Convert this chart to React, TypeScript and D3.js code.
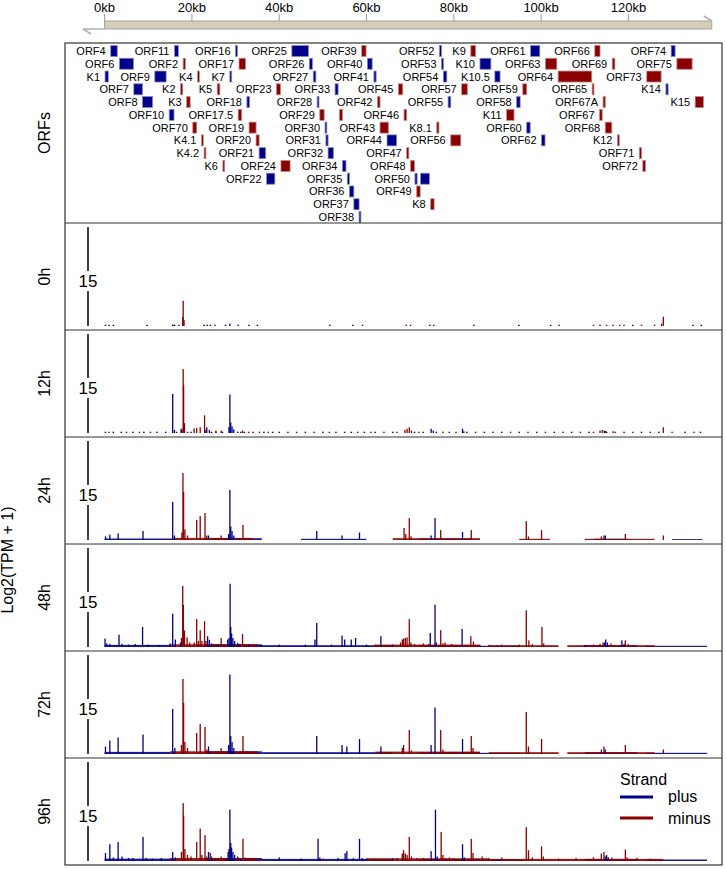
import React from "react";
import * as d3 from "d3";

const W = 726;
const H = 869;
const FONT = "'Liberation Sans', Arial, Helvetica, sans-serif";
const BLUE = "#00008B";
const RED = "#8B0000";

// ---------- top genome axis ----------
const AXIS_TICKS = [0, 20, 40, 60, 80, 100, 120];
const GENOME_END = 139.1; // kb

// ---------- ORF annotation: [label, row, start kb, end kb, strand] ----------
type Orf = [string, number, number, number, string];
const ORFS: Orf[] = [
  ["ORF4", 0, 1.4, 2.9, "+"], ["ORF11", 0, 16.0, 16.9, "+"], ["ORF16", 0, 30.0, 30.4, "+"],
  ["ORF25", 0, 42.9, 46.7, "+"], ["ORF39", 0, 58.9, 59.9, "-"], ["ORF52", 0, 76.7, 77.2, "+"],
  ["K9", 0, 83.9, 85.0, "-"], ["ORF61", 0, 97.6, 99.7, "+"], ["ORF66", 0, 112.3, 113.5, "-"],
  ["ORF74", 0, 129.8, 130.7, "+"],
  ["ORF6", 1, 3.4, 6.6, "+"], ["ORF2", 1, 18.0, 18.5, "-"], ["ORF17", 1, 30.8, 32.3, "-"],
  ["ORF26", 1, 46.9, 47.6, "+"], ["ORF40", 1, 60.2, 61.3, "+"], ["ORF53", 1, 77.2, 77.6, "+"],
  ["K10", 1, 86.0, 88.5, "+"], ["ORF63", 1, 101.0, 103.6, "-"], ["ORF69", 1, 116.3, 116.9, "-"],
  ["ORF75", 1, 131.1, 134.6, "-"],
  ["K1", 2, 0.1, 0.85, "+"], ["ORF9", 2, 11.5, 14.1, "+"], ["K4", 2, 21.3, 21.7, "-"],
  ["K7", 2, 28.7, 29.1, "+"], ["ORF27", 2, 47.8, 48.4, "+"], ["ORF41", 2, 61.7, 62.2, "+"],
  ["ORF54", 2, 77.6, 78.4, "+"], ["K10.5", 2, 89.4, 90.6, "+"], ["ORF64", 2, 103.9, 111.6, "-"],
  ["ORF73", 2, 124.2, 127.5, "-"],
  ["ORF7", 3, 6.7, 8.7, "+"], ["K2", 3, 17.4, 17.9, "-"], ["K5", 3, 25.8, 26.4, "-"],
  ["ORF23", 3, 39.4, 40.3, "-"], ["ORF33", 3, 52.8, 53.5, "+"], ["ORF45", 3, 67.3, 68.3, "-"],
  ["ORF57", 3, 81.8, 83.1, "-"], ["ORF59", 3, 95.8, 96.7, "-"], ["ORF65", 3, 111.7, 112.1, "-"],
  ["K14", 3, 128.6, 129.1, "+"],
  ["ORF8", 4, 8.7, 11.0, "+"], ["K3", 4, 18.8, 19.6, "-"], ["ORF18", 4, 32.6, 33.2, "+"],
  ["ORF28", 4, 48.7, 49.1, "+"], ["ORF42", 4, 62.5, 63.1, "-"], ["ORF55", 4, 78.7, 79.3, "+"],
  ["ORF58", 4, 94.4, 95.2, "+"], ["ORF67A", 4, 114.2, 114.7, "-"], ["K15", 4, 135.3, 137.2, "-"],
  ["ORF10", 5, 14.8, 15.9, "+"], ["ORF17.5", 5, 30.6, 31.4, "-"], ["ORF29", 5, 49.3, 50.3, "-"],
  ["", 5, 53.8, 54.5, "-"], ["ORF46", 5, 68.6, 69.2, "-"], ["K11", 5, 92.1, 93.8, "-"],
  ["ORF67", 5, 113.4, 114.0, "-"],
  ["ORF70", 6, 20.2, 21.1, "-"], ["ORF19", 6, 33.1, 34.7, "-"], ["ORF30", 6, 50.5, 50.9, "+"],
  ["ORF43", 6, 63.1, 65.0, "-"], ["K8.1", 6, 76.1, 76.6, "-"], ["ORF60", 6, 96.7, 97.5, "+"],
  ["ORF68", 6, 114.7, 116.2, "-"],
  ["K4.1", 7, 22.2, 22.6, "-"], ["ORF20", 7, 34.7, 35.4, "-"], ["ORF31", 7, 50.7, 51.2, "+"],
  ["ORF44", 7, 64.7, 66.9, "+"], ["ORF56", 7, 79.3, 81.6, "-"], ["ORF62", 7, 100.1, 100.9, "+"],
  ["K12", 7, 117.5, 117.9, "-"],
  ["K4.2", 8, 22.8, 23.2, "-"], ["ORF21", 8, 35.4, 36.9, "+"], ["ORF32", 8, 51.2, 52.4, "+"],
  ["ORF47", 8, 69.2, 69.7, "-"], ["ORF71", 8, 122.5, 123.0, "-"],
  ["K6", 9, 27.1, 27.5, "-"], ["ORF24", 9, 40.4, 42.5, "-"], ["ORF34", 9, 54.5, 55.3, "+"],
  ["ORF48", 9, 70.1, 71.0, "-"], ["ORF72", 9, 123.3, 123.9, "-"],
  ["ORF22", 10, 37.1, 39.0, "+"], ["ORF35", 10, 55.6, 56.1, "+"], ["ORF50", 10, 71.1, 71.6, "+"],
  ["", 10, 72.4, 74.4, "+"],
  ["ORF36", 11, 56.1, 57.1, "+"], ["ORF49", 11, 71.5, 72.3, "-"],
  ["ORF37", 12, 57.1, 58.3, "+"], ["K8", 12, 74.7, 75.5, "-"],
  ["ORF38", 13, 58.3, 58.7, "+"],
];

// ---------- coverage tracks: peaks [kb, log2(TPM+1)] ----------
type Pk = [number, number];
type Seg = [number, number, number];

const plus0h: Pk[] = [[28.7, 0.8], [15.6, 0.5]];
const minus0h: Pk[] = [[17.9, 3], [18.0, 8.4], [18.2, 2], [127.6, 0.8], [128.0, 3.1]];
const dotsPlus0h = [0.2, 1.0, 2.0, 9.7, 16.0, 22.8, 23.5, 27.7, 30.6, 33.1, 35.0, 51.6, 56.9, 74.5, 84.6, 94.9, 102.2, 121, 134.8, 136.7];
const dotsMinus0h = [17.0, 24.2, 25.3, 59.1, 69.1, 70.1, 75.4, 104.1, 112, 113.5, 115, 116.5, 118, 119, 123, 126];

const plus12h: Pk[] = [[15.6, 13], [16.0, 1.0], [17.5, 1.2], [23.4, 1.9], [24.0, 1.0], [28.5, 2], [28.7, 12.8], [28.9, 3.5], [29.2, 2.2], [29.6, 1.2], [74.8, 1.4], [75.3, 0.8], [82.0, 1.4], [82.3, 0.6], [114.5, 0.8]];
const minus12h: Pk[] = [[17.7, 1.5], [18.0, 21.3], [18.1, 16], [18.3, 3.3], [20.5, 1.5], [21.1, 1.7], [21.9, 1.9], [22.9, 5.9], [23.2, 1.0], [25.5, 0.8], [26.7, 0.8], [31.6, 0.8], [68.8, 1], [69.3, 1.4], [69.8, 1.9], [70.3, 0.8], [113.5, 0.8], [114, 1.0], [114.8, 0.7], [116.5, 0.6], [128.0, 1.9]];
const dotsPlus12h = [0.2, 2, 3.8, 6.5, 9, 12, 14, 19.8, 24.5, 27, 30.5, 32, 34, 36.5, 38.5, 42, 46, 50, 53, 56.5, 59.5, 62, 66, 71, 73, 76, 79, 83, 87, 91, 95, 99, 103, 107, 111, 115, 119, 123, 127, 133, 136.5];
const dotsMinus12h = [1, 5, 8, 10.5, 16.5, 19, 25.5, 31.2, 33, 35.5, 37.5, 40, 44, 48, 51.5, 55, 58, 61, 64, 67, 72, 77.5, 80.5, 85, 89, 93, 97, 101, 105, 109, 112, 117, 121, 125, 130, 135];

const plus24h: Pk[] = [[0.2, 1.2], [1.2, 1.8], [3.1, 2.2], [8.8, 3], [15.6, 12.7], [16, 1.5], [23.8, 1.5], [28.4, 2], [28.7, 16.7], [28.9, 4.5], [29.2, 3], [29.6, 1.5], [48.6, 3], [54.4, 1.5], [58.4, 2.5], [74.8, 1.5], [75.7, 7.3], [82, 2.7], [114.7, 1.5]];
const minus24h: Pk[] = [[17.7, 2.5], [17.95, 22.3], [18.1, 16], [18.4, 3.5], [19, 1.5], [21.1, 6.7], [21.9, 8], [23, 9], [23.4, 1.5], [26.7, 1.5], [31.7, 5], [68.6, 4], [69, 2], [69.8, 7.3], [70.2, 1.2], [77, 3.3], [84, 3.3], [96.6, 6.3], [97.1, 1.2], [100.1, 3.3], [113.8, 1.2], [114.4, 1.5], [119.3, 2], [128, 1.5]];
const lowPlus24h: Seg[] = [[0, 16, 0.5], [23, 36, 0.6], [45, 60, 0.4], [72, 84, 0.5], [112, 120, 0.4], [130, 137, 0.3]];
const lowMinus24h: Seg[] = [[16, 34, 0.7], [66, 86, 0.6], [95, 102, 0.4], [110, 126, 0.4]];

const plus48h: Pk[] = [[0.1, 2.8], [0.5, 1.2], [1.2, 1.0], [3.3, 4.1], [4, 1.0], [5.5, 0.8], [7, 1], [8.7, 6.7], [10, 0.8], [12.5, 0.7], [15.0, 1.2], [15.6, 11.1], [16.2, 2.5], [17.4, 1.5], [23.6, 3.6], [24.0, 2.4], [24.5, 1.2], [26, 1], [28.2, 2.5], [28.5, 3], [28.75, 21.1], [28.9, 6.7], [29.1, 4.5], [29.4, 3], [29.8, 2], [30.5, 1.4], [31, 1], [33, 0.8], [36, 0.7], [40, 0.8], [46, 0.8], [48.2, 2.5], [48.6, 8], [52, 0.8], [54.4, 3.8], [55.0, 2.5], [56.5, 2.5], [57.5, 3], [60, 0.8], [63.3, 3.6], [66, 0.8], [74.6, 4.7], [75.7, 14.1], [76, 1.5], [81.9, 6], [90, 0.5], [110, 0.6], [114.5, 1.5], [114.8, 2.5], [115.2, 1.5], [118.5, 2.2], [119, 1]];
const minus48h: Pk[] = [[17.6, 3], [17.9, 20.4], [18.05, 14], [18.3, 5.5], [18.9, 3.2], [19.5, 1.5], [20.5, 1.5], [21.1, 9.3], [21.5, 2], [21.9, 5.6], [22.3, 2], [22.9, 8.6], [23.2, 2], [25, 1], [26.7, 3], [27.5, 1], [31.6, 4.3], [32, 1], [33, 0.8], [34, 0.8], [62, 0.8], [67.8, 1.5], [68.2, 2.5], [68.5, 2.8], [68.9, 3], [69.3, 3.2], [69.8, 9.3], [70.2, 1.5], [71, 1], [73, 1.2], [74.2, 1], [77, 5.6], [77.5, 1.2], [78, 1.5], [79.5, 1], [83.9, 3.6], [84.5, 1.8], [86, 0.7], [88, 0.7], [91, 0.8], [95, 0.8], [96.6, 12.2], [97.2, 2.2], [98, 1], [100.2, 6.7], [100.6, 1.2], [112, 0.8], [113.5, 1], [114.2, 1.5], [116, 1.2], [119.3, 2.2], [120, 1]];
const lowPlus48h: Seg[] = [[0, 15, 0.7], [23, 36, 0.9], [36, 66, 0.6], [72, 86, 0.6], [86, 95, 0.4], [110, 122, 0.6], [124, 138, 0.4]];
const lowMinus48h: Seg[] = [[15, 35, 0.9], [62, 86, 0.8], [88, 104, 0.6], [106, 126, 0.6]];

const plus72h: Pk[] = [[0.2, 2.5], [1.2, 4.5], [3.1, 5.5], [8.8, 6.5], [15.6, 15], [16.1, 2], [23.8, 2.5], [28.4, 3], [28.7, 26.5], [28.9, 6], [29.2, 4], [29.6, 2], [48.6, 6], [54.4, 3], [55.5, 2.5], [58.4, 5], [63.3, 2.5], [74.8, 3], [75.7, 15.5], [82, 5], [114.7, 1.5]];
const minus72h: Pk[] = [[17.6, 3], [17.95, 25], [18.1, 17], [18.4, 4], [19, 2], [21.1, 7], [21.9, 10], [23, 9], [23.4, 1.5], [26.7, 2], [31.7, 6], [68.2, 2], [68.5, 3], [69.8, 8], [70.3, 1.2], [77, 8], [77.5, 1.5], [84, 6], [84.4, 2], [96.6, 14], [97.1, 2.5], [100.1, 5], [113.8, 1.5], [114.4, 2.5], [119.3, 3], [128, 1.5]];
const lowPlus72h: Seg[] = [[0, 15, 0.7], [23, 36, 0.9], [36, 66, 0.6], [72, 86, 0.6], [86, 95, 0.4], [110, 122, 0.6], [124, 138, 0.4]];
const lowMinus72h: Seg[] = [[15, 35, 0.9], [62, 86, 0.8], [88, 104, 0.6], [106, 126, 0.6]];

const plus96h: Pk[] = [[0.2, 2.7], [1.2, 5.6], [2, 1.2], [3.1, 6.3], [4, 1.5], [5.5, 1], [6.5, 1], [8.8, 8], [9.5, 1], [11, 0.8], [13, 1], [15.6, 3], [16.2, 1.2], [23.8, 3], [24.5, 1.5], [28.3, 3], [28.5, 4], [28.7, 17.1], [28.9, 6], [29.1, 4.5], [29.4, 3], [29.8, 2], [30.5, 1.5], [31.2, 1], [40, 1.2], [45, 0.8], [48.9, 7.4], [49.3, 1.2], [53.5, 1], [55.1, 2.6], [55.5, 3.3], [57, 1], [58.4, 7.4], [59, 1], [60, 0.8], [66, 1], [74.8, 3.3], [75.8, 17.1], [76.2, 1.5], [82, 5.6], [82.4, 1.2], [90, 0.6], [114.7, 1.5], [115, 2], [115.4, 1.2]];
const minus96h: Pk[] = [[17.6, 3], [18.0, 19.3], [18.1, 15.2], [18.4, 4], [19, 2], [19.8, 1.5], [21.1, 6.3], [21.9, 10.8], [22.3, 2], [23, 8.6], [23.4, 1.5], [24.2, 2.7], [26.7, 1.5], [31.7, 7.4], [32.2, 1.2], [33.5, 1], [36, 0.8], [50, 0.8], [62, 0.8], [67, 1], [68.2, 2.5], [68.5, 3.6], [68.9, 2.5], [69.3, 2], [69.8, 8], [70.3, 1.5], [71.5, 1], [73, 1], [77.1, 9.7], [77.5, 2], [78, 1], [79, 1.2], [80, 1], [84, 7.4], [84.4, 2.7], [86.5, 1.5], [88, 1], [91, 1.2], [96.6, 11.3], [97.1, 3.6], [98, 1.2], [100.1, 4.9], [100.5, 1.5], [104, 0.8], [108, 1], [112, 1.2], [113.8, 2.5], [114.4, 3], [115, 1.5], [116.2, 1.2], [119.3, 3.8], [119.7, 1.2], [122, 1], [125, 0.8]];
const lowPlus96h: Seg[] = [[0, 16, 0.8], [23, 36, 1.0], [36, 66, 0.7], [72, 86, 0.7], [86, 96, 0.5], [110, 122, 0.7], [124, 138, 0.5]];
const lowMinus96h: Seg[] = [[15, 35, 1.0], [60, 88, 0.9], [88, 104, 0.7], [104, 128, 0.7]];

const TIME_LABELS = ["0h", "12h", "24h", "48h", "72h", "96h"];
const TRACKS = [
  { plus: plus0h, minus: minus0h, lowPlus: [] as Seg[], lowMinus: [] as Seg[], dotsPlus: dotsPlus0h, dotsMinus: dotsMinus0h },
  { plus: plus12h, minus: minus12h, lowPlus: [] as Seg[], lowMinus: [] as Seg[], dotsPlus: dotsPlus12h, dotsMinus: dotsMinus12h },
  { plus: plus24h, minus: minus24h, lowPlus: lowPlus24h, lowMinus: lowMinus24h, dotsPlus: [] as number[], dotsMinus: [] as number[] },
  { plus: plus48h, minus: minus48h, lowPlus: lowPlus48h, lowMinus: lowMinus48h, dotsPlus: [] as number[], dotsMinus: [] as number[] },
  { plus: plus72h, minus: minus72h, lowPlus: lowPlus72h, lowMinus: lowMinus72h, dotsPlus: [] as number[], dotsMinus: [] as number[] },
  { plus: plus96h, minus: minus96h, lowPlus: lowPlus96h, lowMinus: lowMinus96h, dotsPlus: [] as number[], dotsMinus: [] as number[] },
];

const Y_TICK = 15;
const Y_MAX = 33;

// ---------- layout ----------
const PANEL_L = 65;
const PANEL_R = 722;
const ORF_TOP = 43;
const ORF_BOTTOM = 223;
const TRACK_H = 107;
const ROW0 = 51;
const ROW_STEP = 12.77;
const AXIS_X = 88;

export default function App() {
  const x = d3.scaleLinear().domain([0, 120]).range([104.6, 628.4]);
  const rowY = (r: number) => ROW0 + r * ROW_STEP;
  const bottom = ORF_BOTTOM + TRACK_H * TRACKS.length;

  return (
    <svg width={W} height={H} style={{ position: "absolute", left: 0, top: 0, background: "#fff" }} fontFamily={FONT}>
      {/* top genome axis */}
      <g>
        <rect x={x(0)} y={21} width={x(GENOME_END) - x(0)} height={8} fill="#d4cdb7" stroke="#a3a3a3" strokeWidth={1} />
        <line x1={83} x2={x(0)} y1={29} y2={29} stroke="#b0b0b0" strokeWidth={1.5} />
        <line x1={83} x2={91} y1={29} y2={34} stroke="#b0b0b0" strokeWidth={1.5} />
        <line x1={x(GENOME_END)} x2={x(GENOME_END) - 8} y1={21} y2={16} stroke="#b0b0b0" strokeWidth={1.5} />
        {AXIS_TICKS.map((t) => (
          <g key={t}>
            <line x1={x(t)} x2={x(t)} y1={14} y2={21} stroke="#999" strokeWidth={1} />
            <text x={x(t)} y={12} textAnchor="middle" fontSize={13} fill="#000">{`${t}kb`}</text>
          </g>
        ))}
      </g>

      {/* ORF panel */}
      <g>
        {ORFS.map((o, i) => {
          const [label, row, s, e, strand] = o;
          const cy = rowY(row);
          const x0 = x(s);
          const w = Math.max(1.8, x(e) - x(s));
          const isPlus = strand === "+";
          return (
            <g key={i}>
              <rect x={x0} y={cy - 5.5} width={w} height={11} fill={isPlus ? BLUE : RED}
                stroke={isPlus ? "#8a8ab8" : "#c08a8a"} strokeWidth={0.8} />
              {label && (
                <text x={x0 - 5} y={cy + 4} textAnchor="end" fontSize={11} fill="#000">{label}</text>
              )}
            </g>
          );
        })}
        <text transform={`translate(50,${(ORF_TOP + ORF_BOTTOM) / 2}) rotate(-90)`} textAnchor="middle" fontSize={16} fill="#000">ORFs</text>
      </g>

      {/* coverage tracks */}
      {TRACKS.map((tr, i) => {
        const top = ORF_BOTTOM + i * TRACK_H;
        const y = d3.scaleLinear().domain([0, Y_MAX]).range([top + TRACK_H - 4, top + 4]);
        const y0 = y(0);
        const bar = (d: Pk, k: string, col: string) => (
          <rect key={k} x={x(d[0]) - 0.65} y={y(d[1])} width={1.3} height={y0 - y(d[1])} fill={col} />
        );
        const seg = (d: Seg, k: string, col: string) => (
          <rect key={k} x={x(d[0])} y={y(d[2])} width={x(d[1]) - x(d[0])} height={y0 - y(d[2])} fill={col} opacity={0.9} />
        );
        const dot = (d: number, k: string, col: string) => (
          <rect key={k} x={x(d) - 0.75} y={y0 - 1.3} width={1.5} height={1.3} fill={col} />
        );
        return (
          <g key={i}>
            {tr.lowPlus.map((d, j) => seg(d, `lp${j}`, BLUE))}
            {tr.lowMinus.map((d, j) => seg(d, `lm${j}`, RED))}
            {tr.dotsPlus.map((d, j) => dot(d, `dp${j}`, BLUE))}
            {tr.dotsMinus.map((d, j) => dot(d, `dm${j}`, RED))}
            {tr.minus.map((d, j) => bar(d, `m${j}`, RED))}
            {tr.plus.map((d, j) => bar(d, `p${j}`, BLUE))}
            {/* y axis */}
            <line x1={AXIS_X} x2={AXIS_X} y1={y(Y_MAX)} y2={y(Y_TICK) - 10} stroke="#000" strokeWidth={1.5} />
            <line x1={AXIS_X} x2={AXIS_X} y1={y(Y_TICK) + 10} y2={y0} stroke="#000" strokeWidth={1.5} />
            <text x={AXIS_X} y={y(Y_TICK) + 6} textAnchor="middle" fontSize={17} fill="#000">{Y_TICK}</text>
            <text transform={`translate(50,${top + TRACK_H / 2}) rotate(-90)`} textAnchor="middle" fontSize={16} fill="#000">{TIME_LABELS[i]}</text>
            <line x1={PANEL_L} x2={PANEL_R} y1={top} y2={top} stroke="#333" strokeWidth={1} />
          </g>
        );
      })}

      {/* outer border */}
      <rect x={PANEL_L} y={ORF_TOP} width={PANEL_R - PANEL_L} height={bottom - ORF_TOP} fill="none" stroke="#333" strokeWidth={1.2} />

      {/* y-axis title */}
      <text transform={`translate(13,560) rotate(-90)`} textAnchor="middle" fontSize={16} fill="#000">Log2(TPM + 1)</text>

      {/* legend */}
      <g>
        <text x={620} y={785} fontSize={16} fill="#000">Strand</text>
        <line x1={620} x2={653} y1={797} y2={797} stroke={BLUE} strokeWidth={3} />
        <text x={668} y={802} fontSize={16} fill="#000">plus</text>
        <line x1={620} x2={653} y1={818} y2={818} stroke={RED} strokeWidth={3} />
        <text x={668} y={824} fontSize={16} fill="#000">minus</text>
      </g>
    </svg>
  );
}
